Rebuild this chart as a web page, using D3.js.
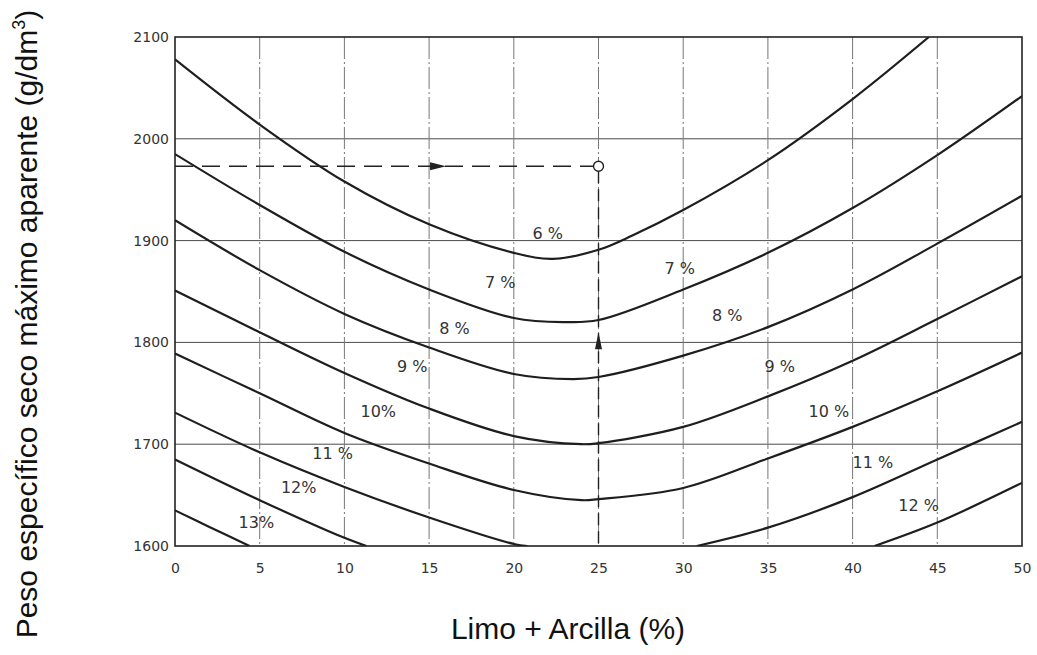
<!DOCTYPE html>
<html>
<head>
<meta charset="utf-8">
<script src="https://cdn.jsdelivr.net/npm/d3@7"></script>
<style>
  html, body { margin: 0; padding: 0; background: #fff; }
  .tick text { font-family: 'DejaVu Sans', sans-serif; font-size: 14px; fill: #333; }
  .axis-title { font-family: 'Liberation Sans', Arial, sans-serif; font-size: 30px; fill: #111; }
  .curve-label { font-family: 'DejaVu Sans', sans-serif; font-size: 16px; fill: #333; }
</style>
</head>
<body>
<div id="chart"></div>
<script>
// Tick values
const xTicks = [0, 5, 10, 15, 20, 25, 30, 35, 40, 45, 50];
const yTicks = [1600, 1700, 1800, 1900, 2000, 2100];
const gridX = [5, 10, 15, 20, 25, 30, 35, 40, 45];
const gridY = [1700, 1800, 1900, 2000];

// Curves of equal moisture content (x = limo + arcilla %, y = g/dm3)
const moisture6 = [[0, 2078], [5, 2014], [10, 1958], [15, 1916], [20, 1888], [22.3, 1882], [25, 1891], [27, 1905], [30, 1930], [35, 1979], [40, 2039], [44.5, 2100]];
const moisture7 = [[0, 1985], [5, 1935], [10, 1889], [15, 1852], [20, 1824], [23, 1820], [25, 1822], [30, 1852], [35, 1888], [40, 1932], [45, 1984], [50, 2042]];
const moisture8 = [[0, 1920], [5, 1871], [10, 1828], [15, 1795], [20, 1769], [23.5, 1764], [25, 1766], [30, 1787], [35, 1815], [40, 1852], [45, 1897], [50, 1944]];
const moisture9 = [[0, 1851], [5, 1810], [10, 1770], [15, 1735], [20, 1708], [24, 1700], [25, 1701], [30, 1717], [35, 1747], [40, 1782], [45, 1823], [50, 1865]];
const moisture10 = [[0, 1789], [5, 1750], [10, 1711], [15, 1681], [20, 1655], [24, 1645], [25, 1646], [30, 1657], [35, 1686], [40, 1717], [45, 1752], [50, 1790]];
const moisture11Left = [[0, 1731], [5, 1692], [10, 1658], [15, 1628], [20, 1602], [20.8, 1600]];
const moisture11Right = [[30.8, 1600], [35, 1618], [40, 1648], [45, 1685], [50, 1722]];
const moisture12Left = [[0, 1685], [5, 1645], [10, 1608], [11.3, 1600]];
const moisture12Right = [[41.3, 1600], [45, 1623], [50, 1662]];
const moisture13 = [[0, 1635], [2, 1619], [4.4, 1600]];

// Curve labels
const labelText = ['6 %', '7 %', '7 %', '8 %', '8 %', '9 %', '9 %', '10%', '10 %', '11 %', '11 %', '12%', '12 %', '13%'];
const labelX = [22.0, 19.2, 29.8, 16.5, 32.6, 14.0, 35.7, 12.0, 38.6, 9.3, 41.2, 7.3, 43.9, 4.8];
const labelY = [1907, 1859, 1873, 1814, 1827, 1776, 1776, 1732, 1732, 1691, 1682, 1658, 1640, 1623];

// Worked example: read 1973 g/dm3 at 25 %
const exampleX = 25;
const exampleY = 1973;
const arrowRightX = 16;
const arrowUpY = 1810;

const W = 1037, H = 655;
const PLOT = { LEFT: 175, RIGHT: 1022, TOP: 37, BOTTOM: 546 };

const svg = d3.select('#chart').append('svg')
  .attr('width', W)
  .attr('height', H);

const x = d3.scaleLinear().domain([0, 50]).range([PLOT.LEFT, PLOT.RIGHT]);
const y = d3.scaleLinear().domain([1600, 2100]).range([PLOT.BOTTOM, PLOT.TOP]);

svg.append('clipPath').attr('id', 'plot-clip')
  .append('rect')
  .attr('x', PLOT.LEFT).attr('y', PLOT.TOP)
  .attr('width', PLOT.RIGHT - PLOT.LEFT)
  .attr('height', PLOT.BOTTOM - PLOT.TOP);

// Grid
svg.append('g').selectAll('line')
  .data(gridY)
  .enter().append('line')
  .attr('x1', x(0)).attr('x2', x(50))
  .attr('y1', d => y(d)).attr('y2', d => y(d))
  .attr('stroke', '#4a4a4a')
  .attr('stroke-width', 1);

svg.append('g').selectAll('line')
  .data(gridX)
  .enter().append('line')
  .attr('x1', d => x(d)).attr('x2', d => x(d))
  .attr('y1', y(2100)).attr('y2', y(1600))
  .attr('stroke', '#777')
  .attr('stroke-width', 1)
  .attr('stroke-dasharray', '22,3,2,3');

// Frame
svg.append('rect')
  .attr('x', x(0)).attr('y', y(2100))
  .attr('width', x(50) - x(0))
  .attr('height', y(1600) - y(2100))
  .attr('fill', 'none')
  .attr('stroke', '#222')
  .attr('stroke-width', 1.6);

// Axes (labels only)
svg.append('g')
  .attr('transform', `translate(${PLOT.LEFT},0)`)
  .call(d3.axisLeft(y).tickValues(yTicks).tickSize(0).tickPadding(6).tickFormat(d3.format('d')))
  .call(g => g.select('.domain').remove());

svg.append('g')
  .attr('transform', `translate(0,${PLOT.BOTTOM})`)
  .call(d3.axisBottom(x).tickValues(xTicks).tickSize(0).tickPadding(17).tickFormat(d3.format('d')))
  .call(g => g.select('.domain').remove());

// Curves
const line = d3.line()
  .x(d => x(d[0]))
  .y(d => y(d[1]))
  .curve(d3.curveCatmullRom.alpha(0.5));

const curves = [moisture6, moisture7, moisture8, moisture9, moisture10,
  moisture11Left, moisture11Right, moisture12Left, moisture12Right, moisture13];

svg.append('g')
  .attr('clip-path', 'url(#plot-clip)')
  .selectAll('path')
  .data(curves)
  .enter().append('path')
  .attr('d', line)
  .attr('fill', 'none')
  .attr('stroke', '#1e1e1e')
  .attr('stroke-width', 2.2);

// Curve labels
svg.append('g').selectAll('text')
  .data(labelText)
  .enter().append('text')
  .attr('class', 'curve-label')
  .attr('x', (d, i) => x(labelX[i]))
  .attr('y', (d, i) => y(labelY[i]))
  .attr('dy', '0.35em')
  .attr('text-anchor', 'middle')
  .text(d => d);

// Worked example lines
svg.append('line')
  .attr('x1', x(0)).attr('x2', x(exampleX) - 5)
  .attr('y1', y(exampleY)).attr('y2', y(exampleY))
  .attr('stroke', '#222')
  .attr('stroke-width', 1.6)
  .attr('stroke-dasharray', '18,9');

svg.append('line')
  .attr('x1', x(exampleX)).attr('x2', x(exampleX))
  .attr('y1', y(exampleY) + 5).attr('y2', y(1600))
  .attr('stroke', '#222')
  .attr('stroke-width', 1.4)
  .attr('stroke-dasharray', '12,6');

// Arrowheads
const ax = x(arrowRightX), ay = y(exampleY);
svg.append('path')
  .attr('d', `M${ax},${ay} L${ax - 16},${ay - 4} L${ax - 16},${ay + 4} Z`)
  .attr('fill', '#222');

const ux = x(exampleX), uy = y(arrowUpY);
svg.append('path')
  .attr('d', `M${ux},${uy} L${ux - 3.5},${uy + 17} L${ux + 3.5},${uy + 17} Z`)
  .attr('fill', '#222');

svg.append('circle')
  .attr('cx', x(exampleX))
  .attr('cy', y(exampleY))
  .attr('r', 5)
  .attr('fill', '#fff')
  .attr('stroke', '#222')
  .attr('stroke-width', 1.4);

// Axis titles
svg.append('text')
  .attr('class', 'axis-title')
  .attr('x', 568)
  .attr('y', 639)
  .attr('text-anchor', 'middle')
  .text('Limo + Arcilla (%)');

const yTitle = svg.append('text')
  .attr('class', 'axis-title')
  .attr('transform', 'translate(37,324) rotate(-90)')
  .attr('text-anchor', 'middle');
yTitle.append('tspan').text('Peso específico seco máximo aparente (g/dm');
yTitle.append('tspan').attr('font-size', '18px').attr('dy', '-12').text('3');
yTitle.append('tspan').attr('dy', '12').text(')');
</script>
</body>
</html>
